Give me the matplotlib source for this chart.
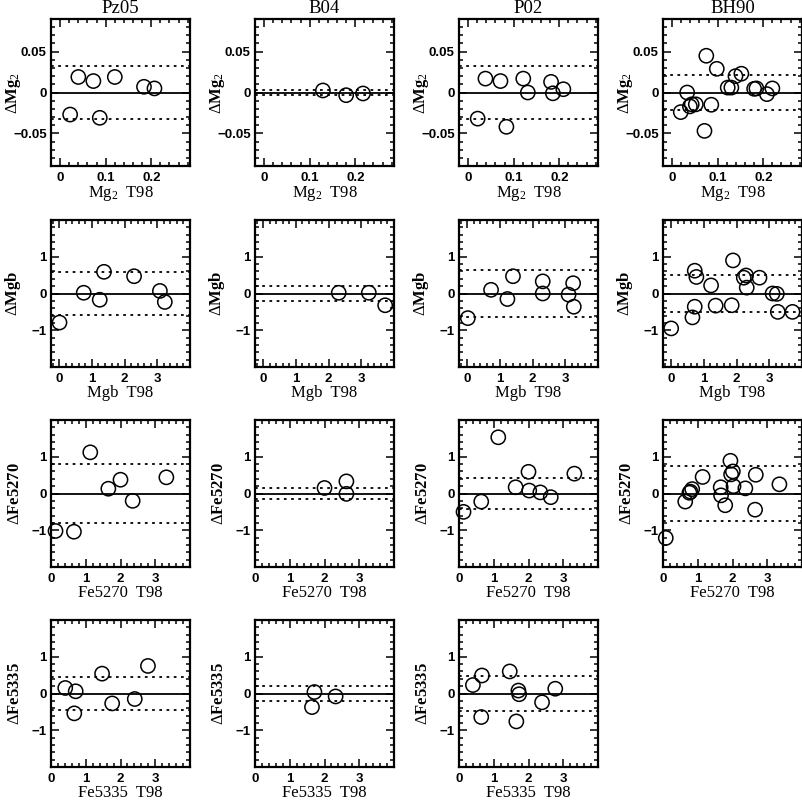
import numpy as np
import matplotlib
matplotlib.use("Agg")
import matplotlib.pyplot as plt
from matplotlib.ticker import MultipleLocator, FuncFormatter

sources = ["Pz05", "B04", "P02", "BH90"]

# Mg2
mg2_pz05_x = [0.040, 0.073, 0.120, 0.022, 0.087, 0.184, 0.207]
mg2_pz05_d = [0.019, 0.014, 0.019, -0.027, -0.031, 0.007, 0.005]
mg2_b04_x = [0.129, 0.180, 0.217]
mg2_b04_d = [0.0025, -0.0033, -0.0012]
mg2_p02_x = [0.038, 0.071, 0.121, 0.131, 0.182, 0.186, 0.209, 0.021, 0.084]
mg2_p02_d = [0.017, 0.014, 0.017, 0.0, 0.013, -0.001, 0.004, -0.032, -0.042]
mg2_bh90_x = [0.019, 0.033, 0.039, 0.043, 0.052, 0.075, 0.071, 0.086, 0.098,
              0.122, 0.130, 0.139, 0.152, 0.180, 0.185, 0.208, 0.220]
mg2_bh90_d = [-0.024, 0.0, -0.017, -0.0145, -0.0145, 0.045, -0.047, -0.015, 0.029,
              0.006, 0.006, 0.020, 0.023, 0.0045, 0.005, -0.002, 0.005]
mg2_sig = [0.033, 0.003, 0.033, 0.022]

# Mgb
mgb_pz05_x = [0.01, 0.75, 1.24, 1.37, 2.29, 3.08, 3.23]
mgb_pz05_d = [-0.79, 0.02, -0.17, 0.59, 0.47, 0.07, -0.23]
mgb_b04_x = [2.31, 3.23, 3.73]
mgb_b04_d = [0.02, 0.02, -0.32]
mgb_p02_x = [0.02, 0.73, 1.23, 1.40, 2.31, 2.31, 3.10, 3.24, 3.26]
mgb_p02_d = [-0.67, 0.10, -0.15, 0.47, 0.33, 0.0, -0.03, 0.28, -0.36]
mgb_bh90_x = [0.0, 0.65, 0.72, 0.72, 0.77, 1.22, 1.36, 1.85, 1.89,
              2.22, 2.29, 2.31, 2.70, 3.10, 3.23, 3.26, 3.71]
mgb_bh90_d = [-0.95, -0.65, -0.36, 0.62, 0.45, 0.22, -0.33, -0.32, 0.90,
              0.43, 0.49, 0.16, 0.43, 0.0, -0.01, -0.50, -0.50]
mgb_sig = [0.58, 0.20, 0.63, 0.51]

# Fe5270
fe70_pz05_x = [0.13, 0.66, 1.13, 1.65, 2.00, 2.35, 3.32]
fe70_pz05_d = [-1.02, -1.04, 1.12, 0.13, 0.375, -0.20, 0.44]
fe70_b04_x = [2.00, 2.63, 2.63]
fe70_b04_d = [0.15, 0.33, -0.01]
fe70_p02_x = [0.13, 0.64, 1.13, 1.63, 2.00, 2.02, 2.34, 2.64, 3.32]
fe70_p02_d = [-0.50, -0.22, 1.53, 0.17, 0.59, 0.08, 0.03, -0.10, 0.54]
fe70_bh90_x = [0.08, 0.64, 0.76, 0.79, 0.84, 1.14, 1.66, 1.67, 1.79,
               1.94, 1.96, 2.01, 2.03, 2.37, 2.65, 2.67, 3.35]
fe70_bh90_d = [-1.21, -0.22, 0.02, 0.05, 0.12, 0.45, 0.17, -0.05, -0.32,
               0.89, 0.52, 0.60, 0.20, 0.14, -0.44, 0.51, 0.25]
fe70_sig = [0.79, 0.15, 0.42, 0.76]

# Fe5335
fe35_pz05_x = [0.41, 0.71, 0.67, 1.47, 1.76, 2.41, 2.79]
fe35_pz05_d = [0.15, 0.06, -0.54, 0.54, -0.27, -0.15, 0.75]
fe35_b04_x = [1.71, 1.64, 2.32]
fe35_b04_d = [0.04, -0.37, -0.08]
fe35_p02_x = [0.40, 0.66, 0.64, 1.46, 1.71, 1.73, 1.65, 2.39, 2.77]
fe35_p02_d = [0.23, 0.49, -0.64, 0.60, 0.08, -0.02, -0.76, -0.24, 0.13]
fe35_sig = [0.455, 0.20, 0.48]

rows = [
    ("Mg$_2$  T98", r"$\Delta$Mg$_2$",
     [(mg2_pz05_x, mg2_pz05_d), (mg2_b04_x, mg2_b04_d),
      (mg2_p02_x, mg2_p02_d), (mg2_bh90_x, mg2_bh90_d)], mg2_sig),
    ("Mgb  T98", r"$\Delta$Mgb",
     [(mgb_pz05_x, mgb_pz05_d), (mgb_b04_x, mgb_b04_d),
      (mgb_p02_x, mgb_p02_d), (mgb_bh90_x, mgb_bh90_d)], mgb_sig),
    ("Fe5270  T98", r"$\Delta$Fe5270",
     [(fe70_pz05_x, fe70_pz05_d), (fe70_b04_x, fe70_b04_d),
      (fe70_p02_x, fe70_p02_d), (fe70_bh90_x, fe70_bh90_d)], fe70_sig),
    ("Fe5335  T98", r"$\Delta$Fe5335",
     [(fe35_pz05_x, fe35_pz05_d), (fe35_b04_x, fe35_b04_d),
      (fe35_p02_x, fe35_p02_d)], fe35_sig),
]

plt.rcParams['mathtext.fontset'] = 'custom'
plt.rcParams['mathtext.rm'] = 'Liberation Serif'
plt.rcParams['mathtext.it'] = 'Liberation Serif'
plt.rcParams['mathtext.bf'] = 'Liberation Serif:bold'

def fmt(v, pos):
    if abs(v) < 1e-9:
        return "0"
    return ("%g" % v).replace("-", "\u2212")

W = 802.0
fig = plt.figure(figsize=(8.02, 8.02), dpi=100)
lefts = [51, 255, 459, 663]
tops = [19, 220, 420, 620]
pw, ph = 139, 147

for r, (xlab, ylab, panels, sig) in enumerate(rows):
    for c, (xs, ds) in enumerate(panels):
        ax = fig.add_axes([lefts[c] / W, 1 - (tops[r] + ph) / W, pw / W, ph / W])
        ax.axhline(0, color='black', lw=1.3)
        ax.axhline(sig[c], color='black', lw=1.3, ls=(0, (1.5, 2.5)))
        ax.axhline(-sig[c], color='black', lw=1.3, ls=(0, (1.5, 2.5)))
        ax.scatter(xs, ds, s=105, facecolors='none', edgecolors='black', linewidths=1.1,
                   clip_on=False, zorder=3)
        if r == 0:
            ax.set_xlim(-0.02, 0.285)
            ax.set_ylim(-0.09, 0.09)
            ax.set_xticks([0, 0.1, 0.2])
            ax.set_yticks([-0.05, 0, 0.05])
            ax.xaxis.set_minor_locator(MultipleLocator(0.02))
            ax.yaxis.set_minor_locator(MultipleLocator(0.01))
            ax.set_title(sources[c], fontsize=13.5, family='Liberation Serif', pad=4)
        else:
            if r == 1:
                ax.set_xlim(-0.25, 4)
            else:
                ax.set_xlim(0, 4)
            ax.set_ylim(-2, 2)
            ax.set_xticks([0, 1, 2, 3])
            ax.set_yticks([-1, 0, 1])
            ax.xaxis.set_minor_locator(MultipleLocator(0.2))
            ax.yaxis.set_minor_locator(MultipleLocator(0.2))
        ax.xaxis.set_major_formatter(FuncFormatter(fmt))
        ax.yaxis.set_major_formatter(FuncFormatter(fmt))
        ax.tick_params(which='both', direction='in', top=True, right=True, width=1.1)
        ax.tick_params(which='major', length=6, labelsize=9.5)
        ax.tick_params(axis='x', which='major', pad=4)
        ax.tick_params(axis='y', which='major', pad=3)
        ax.tick_params(which='minor', length=3)
        for lab in ax.get_xticklabels() + ax.get_yticklabels():
            lab.set_fontweight('bold')
            lab.set_family('Liberation Sans')
        for sp in ax.spines.values():
            sp.set_linewidth(1.6)
        ax.set_xlabel(xlab, fontsize=12, family='Liberation Serif', labelpad=0.5)
        ax.set_ylabel(ylab, fontsize=12, family='Liberation Serif', fontweight='bold')
        ax.yaxis.set_label_coords(-0.2, 0.5)

fig.savefig("out.png", dpi=100)
